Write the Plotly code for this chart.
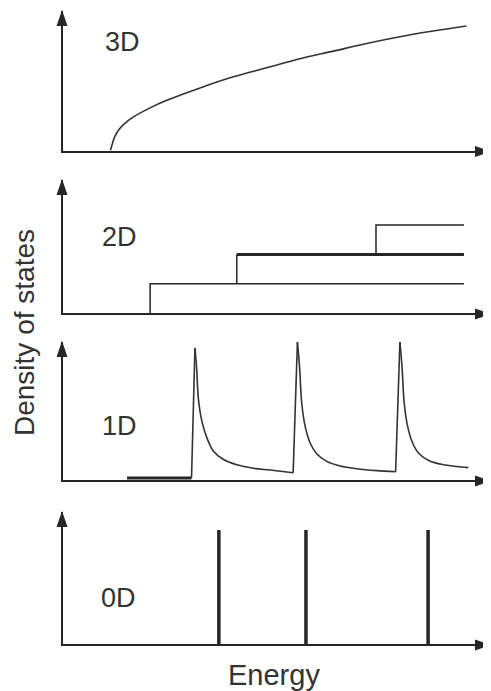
import plotly.graph_objects as go

# ---------------- data (energy in arbitrary units 0-100, DOS arbitrary units) ----------------
# 3D: square-root-like density of states
e3d = [11.1, 11.4, 12.2, 13.3, 14.9, 16.5, 20.4, 24.3, 32.1, 39.9, 47.7, 55.5, 63.3, 71.1, 78.9, 86.7, 94.5]
dos3d = [0.0, 0.45, 1.45, 2.2, 2.85, 3.35, 4.25, 5.0, 6.24, 7.34, 8.24, 9.14, 9.9, 10.67, 11.34, 11.9, 12.4]

# 2D: step function (subband onsets and levels)
step_e = [20.4, 40.7, 73.3]
step_level = [1, 2, 3]
step_end = 93.9

# 1D: thick low segment + three van Hove peaks (each read from its peak down the decaying tail)
e1d_low = [15.0, 30.1]
dos1d_low = [0.15, 0.15]
peak1_e = [30.9, 31.3, 31.7, 32.5, 33.7, 35.2, 37.5, 40.7, 44.6, 48.5, 53.9]
peak1_dos = [9.57, 8.09, 5.9, 4.3, 3.05, 2.1, 1.5, 1.1, 0.85, 0.72, 0.52]
peak2_e = [54.9, 55.4, 55.9, 56.7, 57.85, 59.4, 61.75, 64.9, 68.8, 73.5, 77.9]
peak2_dos = [10.0, 8.2, 5.6, 3.9, 2.7, 1.9, 1.35, 1.02, 0.82, 0.68, 0.6]
peak3_e = [78.9, 79.4, 79.9, 80.7, 81.85, 83.4, 85.75, 88.9, 92.2, 94.9]
peak3_dos = [10.0, 8.2, 5.6, 3.9, 2.7, 1.9, 1.4, 1.12, 0.98, 0.9]

# 0D: discrete levels
e0d = [36.5, 56.9, 85.5]
dos0d = [1, 1, 1]

panel_labels = ["3D", "2D", "1D", "0D"]
label_pos = [(13.9, 10.8), (13.2, 2.6), (13.2, 3.9), (13.0, 0.40)]
y_max = [13.9, 4.54, 10.0, 1.158]
x_max = 100
xlabel = "Energy"
ylabel = "Density of states"

# ---------------- layout geometry ----------------
# page body has an 8px margin, so the figure is shifted by OFF in the window
OFF = 8
W, H = 491 - OFF, 691 - OFF
x_left, x_right = 63 - OFF, 490 - OFF
panels_px = [(150.5 - OFF, 11 - OFF), (313 - OFF, 180 - OFF), (480 - OFF, 342 - OFF), (644 - OFF, 512 - OFF)]

INK = "#262626"
LINE = "#333333"

fig = go.Figure()

fig.add_trace(go.Scatter(x=e3d, y=dos3d, mode="lines", line=dict(color=LINE, width=1.6, shape="spline"),
                         xaxis="x", yaxis="y"))

# 2D steps
fig.add_trace(go.Scatter(x=[step_e[0], step_e[0], step_end], y=[0, step_level[0], step_level[0]],
                         mode="lines", line=dict(color=INK, width=1.5), xaxis="x2", yaxis="y2"))
fig.add_trace(go.Scatter(x=[step_e[1], step_e[1]], y=[step_level[0], step_level[1]],
                         mode="lines", line=dict(color=INK, width=1.5), xaxis="x2", yaxis="y2"))
fig.add_trace(go.Scatter(x=[step_e[1], step_end], y=[step_level[1], step_level[1]],
                         mode="lines", line=dict(color=INK, width=3), xaxis="x2", yaxis="y2"))
fig.add_trace(go.Scatter(x=[step_e[2], step_e[2], step_end], y=[step_level[1], step_level[2], step_level[2]],
                         mode="lines", line=dict(color=INK, width=1.5), xaxis="x2", yaxis="y2"))

# 1D
fig.add_trace(go.Scatter(x=e1d_low, y=dos1d_low, mode="lines", line=dict(color=INK, width=3),
                         xaxis="x3", yaxis="y3"))
prev_e, prev_d = e1d_low[-1], dos1d_low[-1]
for pe, pd in [(peak1_e, peak1_dos), (peak2_e, peak2_dos), (peak3_e, peak3_dos)]:
    # sharp rise from the end of the previous tail to the new peak
    fig.add_trace(go.Scatter(x=[prev_e, pe[0]], y=[prev_d, pd[0]], mode="lines",
                             line=dict(color=LINE, width=1.6), xaxis="x3", yaxis="y3"))
    # smooth decaying tail
    fig.add_trace(go.Scatter(x=pe, y=pd, mode="lines",
                             line=dict(color=LINE, width=1.6, shape="spline", smoothing=0.9),
                             xaxis="x3", yaxis="y3"))
    prev_e, prev_d = pe[-1], pd[-1]

# 0D
xs, ys = [], []
for e, d in zip(e0d, dos0d):
    xs += [e, e, None]
    ys += [0, d, None]
fig.add_trace(go.Scatter(x=xs, y=ys, mode="lines", line=dict(color=INK, width=3.5),
                         xaxis="x4", yaxis="y4"))

layout = dict(width=W, height=H, margin=dict(l=0, r=0, t=0, b=0), showlegend=False,
              plot_bgcolor="white", paper_bgcolor="white")
shapes = []
annotations = []
font = dict(family="Liberation Sans, Arial, sans-serif", size=27, color="#333333")
title_font = dict(family="Liberation Sans, Arial, sans-serif", size=29, color="#333333")
ytitle_font = dict(family="Liberation Sans, Arial, sans-serif", size=28, color="#333333")

for i, (y0px, y1px) in enumerate(panels_px):
    n = "" if i == 0 else str(i + 1)
    xa, ya = "x" + n, "y" + n
    layout["xaxis" + n] = dict(domain=[x_left / W, x_right / W], range=[0, x_max], anchor=ya,
                               showline=True, linecolor=INK, linewidth=2, showgrid=False,
                               zeroline=False, showticklabels=False, ticks="", fixedrange=True)
    layout["yaxis" + n] = dict(domain=[1 - y0px / H, 1 - y1px / H], range=[0, y_max[i]], anchor=xa,
                               showline=True, linecolor=INK, linewidth=2, showgrid=False,
                               zeroline=False, showticklabels=False, ticks="", fixedrange=True)
    # arrowheads at the axis ends (paper-anchored so they are not clipped)
    shapes.append(dict(type="path", xref="paper", yref="paper", xsizemode="pixel", ysizemode="pixel",
                       xanchor=x_right / W, yanchor=1 - y0px / H, path="M1,-1 L-15,4.5 L-15,-6.5 Z",
                       fillcolor=INK, line=dict(width=0)))
    shapes.append(dict(type="path", xref="paper", yref="paper", xsizemode="pixel", ysizemode="pixel",
                       xanchor=x_left / W, yanchor=1 - y1px / H, path="M-1,1 L-6.5,-15 L4.5,-15 Z",
                       fillcolor=INK, line=dict(width=0)))
    lx, ly = label_pos[i]
    annotations.append(dict(x=lx, y=ly, xref=xa, yref=ya, text=panel_labels[i], showarrow=False,
                            font=font, xanchor="center", yanchor="middle"))

annotations.append(dict(x=(274 - OFF) / W, y=1 - (675 - OFF) / H, xref="paper", yref="paper", text=xlabel,
                        showarrow=False, font=title_font, xanchor="center", yanchor="middle"))
annotations.append(dict(x=(24 - OFF) / W, y=1 - (333 - OFF) / H, xref="paper", yref="paper", text=ylabel,
                        showarrow=False, font=ytitle_font, textangle=-90, xanchor="center", yanchor="middle"))

layout["shapes"] = shapes
layout["annotations"] = annotations
fig.update_layout(**layout)
fig.update_traces(hoverinfo="skip")

fig.write_html("out.html")
